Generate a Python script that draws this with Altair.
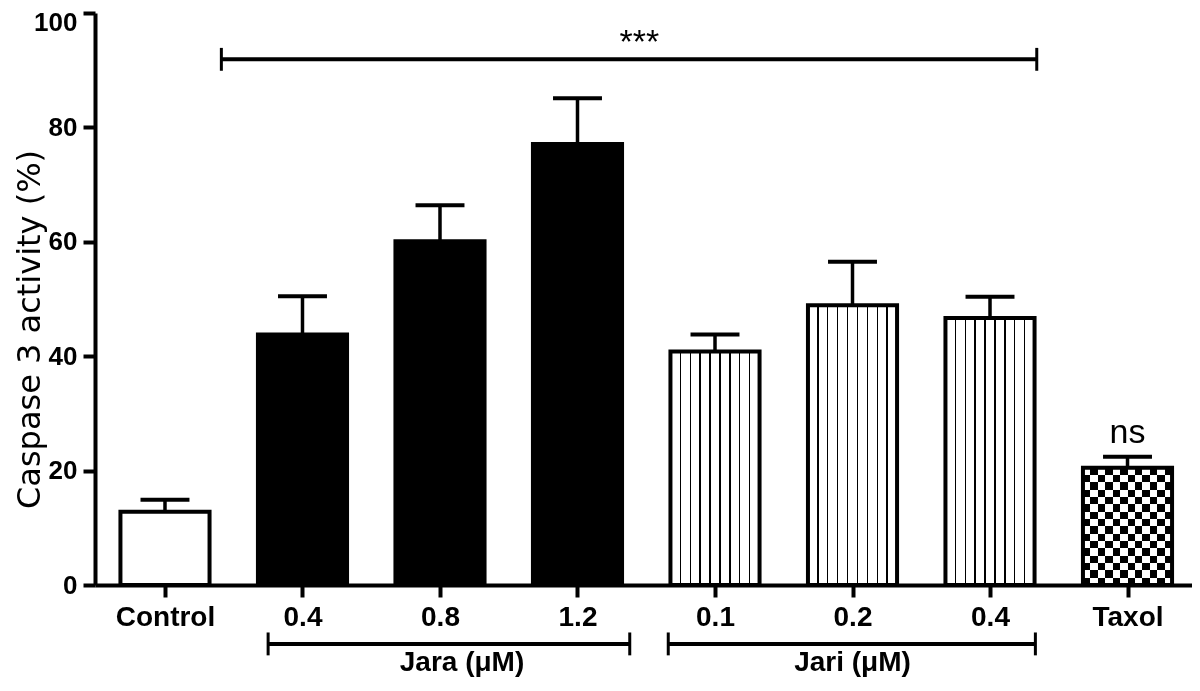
import altair as alt
import pandas as pd

# ---- data ----
labels = ["Control", "0.4", "0.8", "1.2", "0.1", "0.2", "0.4", "Taxol"]
groups = ["Control", "Jara", "Jara", "Jara", "Jari", "Jari", "Jari", "Taxol"]
means = [12.8, 43.8, 60.1, 77.1, 40.8, 48.9, 46.7, 20.5]
upper = [14.9, 50.5, 66.4, 85.1, 43.8, 56.5, 50.4, 22.4]
positions = list(range(len(labels)))

bracket_text = ["***", "Jara (\u03bcM)", "Jari (\u03bcM)"]
bracket_start = [0.41, 0.75, 3.66]
bracket_end = [6.34, 3.38, 6.33]
bracket_y = [91.9, -10.3, -10.3]
bracket_text_x = [3.45, 2.16, 5.0]
bracket_text_y = [91.9, -15.0, -15.0]
bracket_text_size = [34, 28, 28]
bracket_text_dy = [-6, 0, 0]
bracket_text_weight = ["normal", "bold", "bold"]

ns_text = ["ns"]
ns_x = [7]
ns_y = [24.8]

y_ticks = [0, 20, 40, 60, 80, 100]
y_title = "Caspase 3 activity (%)"

df = pd.DataFrame({"pos": positions, "label": labels, "group": groups,
                   "mean": means, "upper": upper})
br = pd.DataFrame({"text": bracket_text, "x1": bracket_start, "x2": bracket_end,
                   "y": bracket_y, "tx": bracket_text_x, "ty": bracket_text_y})
ns_df = pd.DataFrame({"text": ns_text, "x": ns_x, "y": ns_y})

HALF = 0.324   # bar half width (x units)
CAP = 0.178    # error cap half width
END = 2.0      # bracket end tick half height (y units)

xscale = alt.Scale(domain=[-0.509, 7.469], nice=False, zero=False)
yscale = alt.Scale(domain=[0, 100], nice=False)

label_expr = "[" + ",".join("'%s'" % l for l in labels) + "][datum.value]"

FONT = "Liberation Sans"

x_axis = alt.Axis(values=positions, labelExpr=label_expr, title=None, grid=False,
                  domainWidth=4, domainColor="black", tickWidth=4, tickColor="black",
                  tickSize=12, labelFont=FONT, labelFontSize=28, labelFontWeight="bold",
                  labelColor="black", labelPadding=6, labelFlush=False, labelOverlap=False)
y_axis = alt.Axis(values=y_ticks, title=y_title, grid=False, domainWidth=4,
                  domainColor="black", tickWidth=4, tickColor="black", tickSize=12,
                  labelFont=FONT, labelFontSize=26, labelFontWeight="bold",
                  labelColor="black", labelPadding=6, labelFlush=False,
                  labelOffset={"condition": {"test": "datum.value === 100", "value": 9},
                               "value": 0},
                  titleFont="DejaVu Sans", titleFontSize=32, titleFontWeight="normal",
                  titleColor="black", titleX=-66, titleY=316, titleAngle=270,
                  titleBaseline="middle", titleAlign="center")


def X(field):
    return alt.X(field, scale=xscale, axis=x_axis)


def Y(field):
    return alt.Y(field, scale=yscale, axis=y_axis)


base = alt.Chart(df).transform_calculate(
    left=f"datum.pos - {HALF}", right=f"datum.pos + {HALF}",
    capl=f"datum.pos - {CAP}", capr=f"datum.pos + {CAP}")


def stripe_stops(n_lines, half_w):
    stops = [alt.GradientStop(offset=0, color="white")]
    for k in range(1, n_lines + 1):
        p = k / (n_lines + 1)
        stops += [alt.GradientStop(offset=p - half_w, color="white"),
                  alt.GradientStop(offset=p - half_w, color="black"),
                  alt.GradientStop(offset=p + half_w, color="black"),
                  alt.GradientStop(offset=p + half_w, color="white")]
    stops.append(alt.GradientStop(offset=1, color="white"))
    return stops


def band_stops(n, first, second):
    stops = []
    for i in range(n):
        c = first if i % 2 == 0 else second
        stops += [alt.GradientStop(offset=i / n, color=c),
                  alt.GradientStop(offset=(i + 1) / n, color=c)]
    return stops


vstripes = alt.LinearGradient(gradient="linear", x1=0, x2=1, y1=0, y2=0,
                              stops=stripe_stops(8, 0.008))
hbands = alt.LinearGradient(gradient="linear", x1=0, x2=0, y1=0, y2=1,
                            stops=band_stops(16, "black", "white"))
vbands = alt.LinearGradient(gradient="linear", x1=0, x2=1, y1=0, y2=0,
                            stops=band_stops(12, "white", "black"))


def bars(flt, **mark):
    return base.transform_filter(flt).mark_bar(strokeWidth=0, **mark).encode(
        x=X("left:Q"), x2="right:Q", y=Y("mean:Q"), y2=alt.datum(0))


# error bars
stems = base.mark_rule(color="black", strokeWidth=3.5).encode(
    x=X("pos:Q"), y=Y("mean:Q"), y2="upper:Q")
caps = base.mark_rule(color="black", strokeWidth=4).encode(
    x=X("capl:Q"), x2="capr:Q", y=Y("upper:Q"))

white_bars = bars("datum.group == 'Control'", fill="white")
black_bars = bars("datum.group == 'Jara'", fill="black")
striped_bars = bars("datum.group == 'Jari'", fill=vstripes)
checker_a = bars("datum.group == 'Taxol'", fill=hbands)
checker_b = bars("datum.group == 'Taxol'", fill=vbands, blend="difference")

outline = base.mark_bar(fillOpacity=0, stroke="black", strokeWidth=4).encode(
    x=X("left:Q"), x2="right:Q", y=Y("mean:Q"), y2=alt.datum(0))

# significance / group brackets
bb = alt.Chart(br).transform_calculate(lo=f"datum.y - {END}", hi=f"datum.y + {END}")
hline = bb.mark_rule(color="black", strokeWidth=4).encode(
    x=X("x1:Q"), x2="x2:Q", y=Y("y:Q"))
lend = bb.mark_rule(color="black", strokeWidth=3).encode(
    x=X("x1:Q"), y=Y("lo:Q"), y2="hi:Q")
rend = bb.mark_rule(color="black", strokeWidth=3).encode(
    x=X("x2:Q"), y=Y("lo:Q"), y2="hi:Q")

btexts = []
for i in range(len(bracket_text)):
    btexts.append(
        alt.Chart(br.iloc[[i]]).mark_text(
            font=FONT, color="black", baseline="alphabetic",
            fontSize=int(bracket_text_size[i]), dy=bracket_text_dy[i],
            fontWeight=bracket_text_weight[i]).encode(
            x=X("tx:Q"), y=Y("ty:Q"), text="text:N"))

ns = alt.Chart(ns_df).mark_text(font=FONT, fontSize=34, color="black",
                                baseline="alphabetic").encode(
    x=X("x:Q"), y=Y("y:Q"), text="text:N")

chart = alt.layer(
    stems, white_bars, black_bars, striped_bars, checker_a, checker_b, outline,
    caps, hline, lend, rend, *btexts, ns
).properties(
    width=1097, height=572,
    autosize=alt.AutoSizeParams(type="none"),
    padding={"left": 87, "top": 5, "right": 0, "bottom": 93},
    background="white"
).configure_view(stroke=None)

chart.save("out.html", embed_options={"renderer": "svg", "actions": False})
